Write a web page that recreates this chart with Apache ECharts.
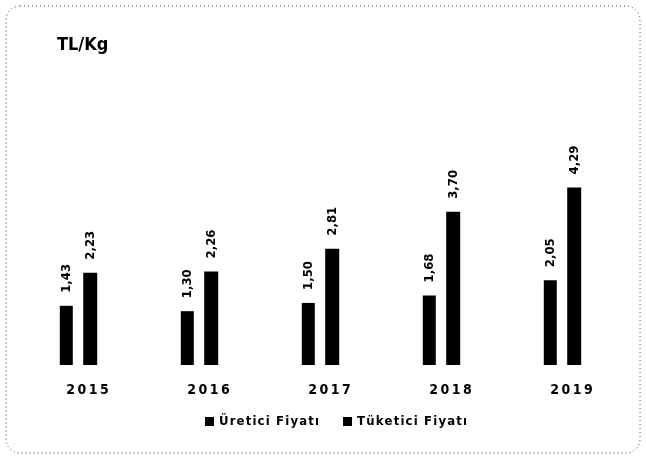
<!DOCTYPE html>
<html>
<head>
<meta charset="utf-8">
<script src="https://cdn.jsdelivr.net/npm/echarts@6/dist/echarts.min.js"></script>
<style>
  html, body { margin: 0; padding: 0; background: #fff; }
  #chart { width: 646px; height: 459px; }
</style>
</head>
<body>
<div id="chart"></div>
<script>
// yıllar ve fiyatlar (TL/Kg)
const years = ['2015', '2016', '2017', '2018', '2019'];
const ureticiFiyati = [1.43, 1.30, 1.50, 1.68, 2.05];
const tuketiciFiyati = [2.23, 2.26, 2.81, 3.70, 4.29];

const chart = echarts.init(document.getElementById('chart'));

const font = "'DejaVu Sans Condensed', 'DejaVu Sans', sans-serif";

const labelStyle = {
  show: true,
  position: 'top',
  rotate: 90,
  align: 'left',
  verticalAlign: 'middle',
  distance: 13,
  color: '#000',
  fontFamily: font,
  fontWeight: 'bold',
  fontSize: 13,
  formatter: p => p.value.toFixed(2).replace('.', ',')
};

chart.setOption({
  animation: false,
  backgroundColor: '#fff',
  title: {
    text: 'TL/Kg',
    left: 52,
    top: 31,
    textStyle: { color: '#000', fontFamily: font, fontWeight: 'bold', fontSize: 18 }
  },
  legend: {
    bottom: 26,
    left: 200,
    itemWidth: 9,
    itemHeight: 9,
    itemGap: 24,
    icon: 'rect',
    textStyle: { color: '#000', fontFamily: font, fontWeight: 'bold', fontSize: 13 },
    formatter: name => name.split('').join('\u200a'),
    data: ['Üretici Fiyatı', 'Tüketici Fiyatı']
  },
  grid: { left: 18, right: 23, top: 158, bottom: 94 },
  xAxis: {
    type: 'category',
    data: years,
    axisLine: { show: false },
    axisTick: { show: false },
    axisLabel: {
      margin: 18,
      padding: [0, 0, 0, 18],
      color: '#000',
      fontFamily: font,
      fontWeight: 'bold',
      fontSize: 14,
      formatter: v => v.split('').join('\u2009')
    }
  },
  yAxis: {
    type: 'value',
    min: 0,
    max: 5,
    show: false,
    splitLine: { show: false }
  },
  graphic: [{
    type: 'rect',
    shape: { x: 6, y: 6, width: 634, height: 447, r: 14 },
    style: { fill: 'none', stroke: '#444', lineWidth: 1, lineDash: [1, 3] }
  }],
  series: [
    {
      name: 'Üretici Fiyatı',
      type: 'bar',
      data: ureticiFiyati,
      barWidth: 13,
      barGap: '80%',
      itemStyle: { color: '#000' },
      label: labelStyle
    },
    {
      name: 'Tüketici Fiyatı',
      type: 'bar',
      data: tuketiciFiyati,
      barWidth: 14,
      itemStyle: { color: '#000' },
      label: labelStyle
    }
  ]
});
</script>
</body>
</html>
